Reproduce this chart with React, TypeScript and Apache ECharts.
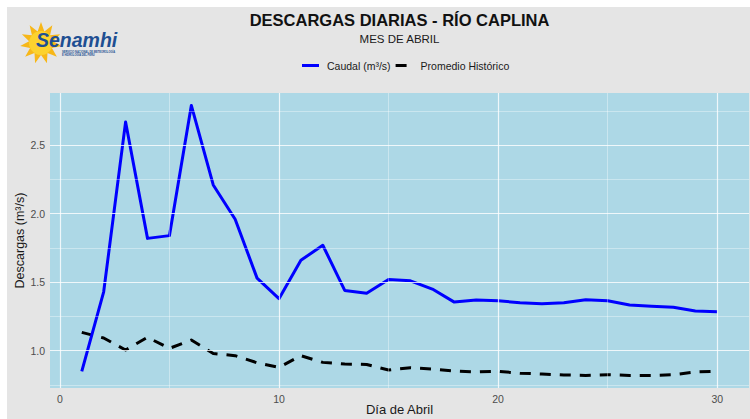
import React, { useEffect, useRef } from "react";
import * as echarts from "echarts";

const days = [1, 2, 3, 4, 5, 6, 7, 8, 9, 10, 11, 12, 13, 14, 15, 16, 17, 18, 19, 20, 21, 22, 23, 24, 25, 26, 27, 28, 29, 30];
const caudal = [0.85, 1.43, 2.67, 1.82, 1.84, 2.79, 2.21, 1.96, 1.53, 1.38, 1.66, 1.77, 1.44, 1.42, 1.52, 1.51, 1.45, 1.355, 1.37, 1.365, 1.35, 1.343, 1.35, 1.372, 1.365, 1.334, 1.324, 1.317, 1.29, 1.285];
const promedio = [1.134, 1.093, 1.005, 1.098, 1.017, 1.078, 0.98, 0.964, 0.912, 0.879, 0.964, 0.915, 0.903, 0.9, 0.859, 0.876, 0.866, 0.852, 0.845, 0.85, 0.836, 0.83, 0.823, 0.82, 0.825, 0.82, 0.82, 0.825, 0.845, 0.85];
const xTicks = [0, 10, 20, 30];
const xMinor = [5, 15, 25];
const yTicks = [1.0, 1.5, 2.0, 2.5];
const yMinor = [0.75, 1.25, 1.75, 2.25, 2.75];

const seriesNames = ["Caudal (m³/s)", "Promedio Histórico"];
const title = "DESCARGAS DIARIAS - RÍO CAPLINA";
const subtitle = "MES DE ABRIL";
const xName = "Día de Abril";
const yName = "Descargas (m³/s)";

const FONT = "'Liberation Sans', Arial, sans-serif";

function sunPoints(cx: number, cy: number, ro: number, ri: number, n: number) {
  const pts: number[][] = [];
  for (let i = 0; i < n * 2; i++) {
    const r = i % 2 === 0 ? ro : ri;
    const a = (Math.PI * i) / n - Math.PI / 2;
    pts.push([cx + r * Math.cos(a), cy + r * Math.sin(a)]);
  }
  return pts;
}

export default function App() {
  const ref = useRef<HTMLDivElement>(null);
  useEffect(() => {
    if (!ref.current) return;
    const chart = echarts.init(ref.current, undefined, { renderer: "svg" });
    const xMin = -0.45;
    const xMax = 31.45;
    const yMin = 0.728;
    const yMax = 2.881;
    const majorStyle = { color: "rgba(255,255,255,0.8)", width: 1.2, type: "solid" as const };
    const minorStyle = { color: "rgba(255,255,255,0.6)", width: 0.6, type: "solid" as const };
    const gridLines = [
      ...xMinor.map((v) => ({ xAxis: v, lineStyle: minorStyle })),
      ...yMinor.map((v) => ({ yAxis: v, lineStyle: minorStyle })),
      ...xTicks.map((v) => ({ xAxis: v, lineStyle: majorStyle })),
      ...yTicks.map((v) => ({ yAxis: v, lineStyle: majorStyle })),
    ];
    chart.setOption({
      animation: false,
      backgroundColor: "#e5e5e5",
      textStyle: { fontFamily: FONT },
      grid: {
        left: 43,
        right: 1,
        top: 86,
        bottom: 31,
        containLabel: false,
        outerBoundsMode: "none",
        show: true,
        backgroundColor: "#add8e6",
        borderWidth: 0,
      },
      legend: {
        left: 290,
        top: 48,
        itemWidth: 17,
        itemHeight: 3,
        itemGap: 5,
        textStyle: { fontFamily: FONT, fontSize: 10.5, color: "#1a1a1a", padding: [0, 0, 0, 3] },
        data: [
          { name: seriesNames[0], icon: "rect", itemStyle: { color: "#0000ff" } },
          { name: seriesNames[1], icon: "path://M0,0H11V3H0Z M16.9,1.4H17V1.6H16.9Z", itemStyle: { color: "#000000" } },
        ],
      },
      xAxis: {
        type: "value",
        min: xMin,
        max: xMax,
        name: xName,
        nameLocation: "middle",
        nameGap: 15,
        nameMoveOverlap: false,
        nameTextStyle: { fontFamily: FONT, fontSize: 13, color: "#1a1a1a" },
        axisLine: { show: false },
        axisTick: { show: false },
        splitLine: { show: false },
        axisLabel: {
          customValues: xTicks,
          margin: 5,
          fontFamily: FONT,
          fontSize: 10.5,
          color: "#4d4d4d",
          formatter: (v: number) => String(v),
        },
      },
      yAxis: {
        type: "value",
        min: yMin,
        max: yMax,
        name: yName,
        nameLocation: "middle",
        nameGap: 24,
        nameMoveOverlap: false,
        nameTextStyle: { fontFamily: FONT, fontSize: 12.5, color: "#1a1a1a" },
        axisLine: { show: false },
        axisTick: { show: false },
        splitLine: { show: false },
        axisLabel: {
          customValues: yTicks,
          margin: 5,
          fontFamily: FONT,
          fontSize: 10.5,
          color: "#4d4d4d",
          formatter: (v: number) => v.toFixed(1),
        },
      },
      series: [
        {
          name: "__grid",
          type: "line",
          data: [],
          silent: true,
          markLine: {
            silent: true,
            symbol: "none",
            label: { show: false },
            animation: false,
            data: gridLines,
          },
        },
        {
          name: seriesNames[1],
          type: "line",
          data: days.map((d, i) => [d, promedio[i]]),
          showSymbol: false,
          symbol: "none",
          lineStyle: { color: "#000000", width: 3, type: [11, 9], join: "round" },
          itemStyle: { color: "#000000" },
          z: 3,
        },
        {
          name: seriesNames[0],
          type: "line",
          data: days.map((d, i) => [d, caudal[i]]),
          showSymbol: false,
          symbol: "none",
          lineStyle: { color: "#0000ff", width: 3, join: "round" },
          itemStyle: { color: "#0000ff" },
          z: 4,
        },
      ],
      graphic: [
        {
          type: "text",
          x: 392.5,
          y: 12.5,
          style: {
            text: title,
            font: `bold 16.5px ${FONT}`,
            fill: "#111111",
            align: "center",
            verticalAlign: "middle",
          },
        },
        {
          type: "text",
          x: 392.5,
          y: 32,
          style: {
            text: subtitle,
            font: `11.5px ${FONT}`,
            fill: "#1a1a1a",
            align: "center",
            verticalAlign: "middle",
          },
        },
        {
          type: "group",
          children: [
            {
              type: "polygon",
              shape: { points: sunPoints(34, 36, 21, 12, 11) },
              style: { fill: "#f7b718" },
            },
            {
              type: "circle",
              shape: { cx: 34, cy: 36, r: 12 },
              style: { fill: "#fcd22e" },
            },
            {
              type: "text",
              x: 29,
              y: 33,
              style: {
                text: "Senamhi",
                font: `italic bold 19.5px ${FONT}`,
                fill: "#1e4f92",
                verticalAlign: "middle",
              },
            },
            {
              type: "text",
              x: 55,
              y: 45,
              style: {
                text: "SERVICIO NACIONAL DE METEOROLOGÍA",
                font: `bold 2.6px ${FONT}`,
                fill: "#1e4f92",
                verticalAlign: "middle",
              },
            },
            {
              type: "text",
              x: 55,
              y: 48.2,
              style: {
                text: "E HIDROLOGÍA DEL PERÚ",
                font: `bold 2.6px ${FONT}`,
                fill: "#1e4f92",
                verticalAlign: "middle",
              },
            },
          ],
        },
      ],
    });
    return () => chart.dispose();
  }, []);
  return (
    <div
      ref={ref}
      style={{ position: "absolute", left: 7, top: 7, width: 743, height: 412 }}
    />
  );
}
